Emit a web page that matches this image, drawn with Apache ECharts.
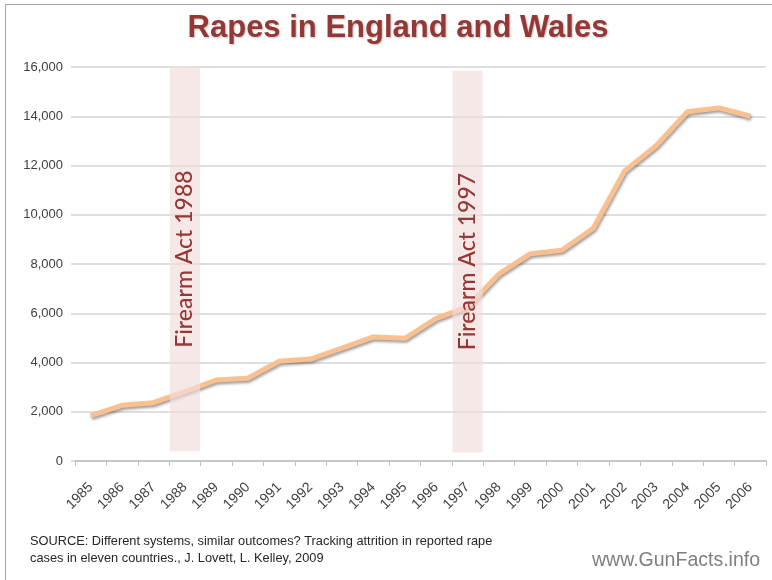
<!DOCTYPE html>
<html>
<head>
    <meta charset="utf-8">
    <title>Rapes in England and Wales</title>
    <script src="https://cdn.jsdelivr.net/npm/echarts@6/dist/echarts.min.js"></script>
    <style>
        body { margin: 0; background: #fff; }
        #frame { position: absolute; left: 5px; top: 4px; width: 767px; height: 576px;
                 border-left: 1px solid #a6a6a6; border-top: 1px solid #a6a6a6; }
    </style>
</head>
<body>
    <div id="frame"></div>
    <div id="main" style="position:absolute;left:0;top:0;width:772px;height:580px;"></div>

    <script type="text/javascript">
        // years on the x axis
        var years = ['1985', '1986', '1987', '1988', '1989', '1990', '1991', '1992', '1993', '1994', '1995',
                     '1996', '1997', '1998', '1999', '2000', '2001', '2002', '2003', '2004', '2005', '2006'];
        // reported rapes
        var rapes = [1840, 2260, 2370, 2820, 3290, 3360, 4050, 4140, 4580, 5040, 4980,
                     5790, 6260, 7600, 8420, 8560, 9450, 11780, 12800, 14180, 14340, 14000];
        // shaded bands for the firearm acts: year, label, bottom, top
        var actYears = ['1988', '1997'];
        var actLabels = ['Firearm Act 1988', 'Firearm Act 1997'];
        var actBottoms = [400, 350];
        var actTops = [16000, 15850];
        var yTicks = { min: 0, max: 16000, interval: 2000 };

        // one value per year, null where there is no band
        var bandBase = years.map(function (y) {
            var i = actYears.indexOf(y);
            return i < 0 ? null : actBottoms[i];
        });
        var bandSize = years.map(function (y) {
            var i = actYears.indexOf(y);
            return i < 0 ? null : actTops[i] - actBottoms[i];
        });

        var myChart = echarts.init(document.getElementById('main'));

        var option = {
            animation: false,
            title: {
                text: 'Rapes in England and Wales',
                left: 393,
                textAlign: 'center',
                top: 8,
                textStyle: {
                    fontFamily: 'Liberation Sans',
                    fontSize: 31,
                    fontWeight: 'bold',
                    color: '#953735',
                    textShadowColor: 'rgba(0,0,0,0.25)',
                    textShadowBlur: 2,
                    textShadowOffsetX: 1,
                    textShadowOffsetY: 1
                }
            },
            grid: { left: 75, right: 6, top: 67, bottom: 119 },
            xAxis: {
                type: 'category',
                data: years,
                boundaryGap: true,
                axisLine: { lineStyle: { color: '#bfbfbf', width: 1.5 } },
                axisTick: { show: true, length: 5, interval: 0, lineStyle: { color: '#bfbfbf' } },
                axisLabel: {
                    interval: 0,
                    rotate: 45,
                    margin: 24,
                    fontFamily: 'Liberation Sans',
                    fontSize: 14,
                    color: '#404040'
                }
            },
            yAxis: {
                type: 'value',
                min: yTicks.min,
                max: yTicks.max,
                interval: yTicks.interval,
                axisLine: { show: false },
                axisTick: { show: true, length: 4, lineStyle: { color: '#d4d4d4', width: 1.5 } },
                splitLine: { lineStyle: { color: '#d4d4d4', width: 1.5 } },
                axisLabel: {
                    margin: 12,
                    fontFamily: 'Liberation Sans',
                    fontSize: 13,
                    color: '#404040',
                    formatter: function (v) { return v.toLocaleString('en-US'); }
                }
            },
            series: [
                {
                    type: 'line',
                    data: rapes,
                    symbol: 'none',
                    z: 2,
                    lineStyle: {
                        color: '#fac090',
                        width: 5,
                        shadowColor: 'rgba(0,0,0,0.4)',
                        shadowBlur: 3,
                        shadowOffsetX: 1,
                        shadowOffsetY: 2
                    }
                },
                {
                    type: 'bar',
                    stack: 'band',
                    data: bandBase,
                    barWidth: '96%',
                    z: 3,
                    silent: true,
                    itemStyle: { color: 'rgba(0,0,0,0)' }
                },
                {
                    type: 'bar',
                    stack: 'band',
                    data: bandSize,
                    barWidth: '96%',
                    z: 3,
                    silent: true,
                    itemStyle: { color: 'rgba(242,220,219,0.65)' },
                    label: {
                        show: true,
                        position: 'inside',
                        rotate: 90,
                        fontFamily: 'Lato',
                        fontSize: 23,
                        fontWeight: 500,
                        color: '#953735',
                        formatter: function (p) {
                            return actLabels[actYears.indexOf(p.name)];
                        }
                    }
                }
            ],
            graphic: [
                {
                    type: 'text',
                    left: 30,
                    top: 533,
                    style: {
                        text: 'SOURCE: Different systems, similar outcomes? Tracking attrition in reported rape\ncases in eleven countries., J. Lovett, L. Kelley, 2009',
                        fontFamily: 'Liberation Sans',
                        fontSize: 12.8,
                        lineHeight: 17,
                        fill: '#262626'
                    }
                },
                {
                    type: 'text',
                    right: 12,
                    top: 551,
                    style: {
                        text: 'www.GunFacts.info',
                        fontFamily: 'Liberation Sans',
                        fontSize: 19.5,
                        fill: '#7f7f7f'
                    }
                }
            ]
        };

        myChart.setOption(option);
    </script>
</body>
</html>
